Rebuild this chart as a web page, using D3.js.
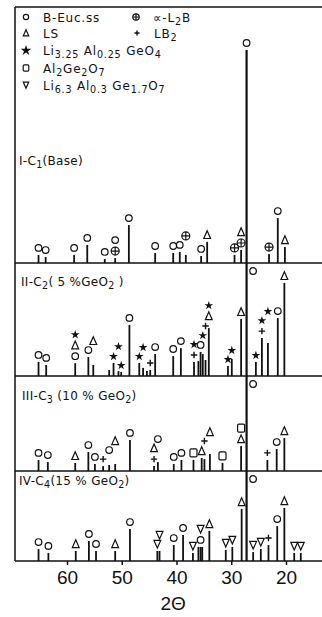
<!DOCTYPE html>
<html>
<head>
<meta charset="utf-8">
<script src="https://cdn.jsdelivr.net/npm/d3@7"></script>
<style>
  body { margin: 0; background: #fff; }
</style>
</head>
<body>
<div id="chart"></div>
<script>
// ---- data ----
const xTicks = [60, 50, 40, 30, 20];
const panelTitles = ["I-C_1(Base)", "II-C_2( 5 %GeO_2 )", "III-C_3 (10 % GeO_2)", "IV-C_4(15 % GeO_2)"];

// phase codes: E = B-Euc.ss, A = a-L2B, L = LS, P = LB2, S = Li3.25..., Q = Al2Ge2O7, V = Li6.3...
// label strings list the marks from the peak upwards
const base2Theta   = [65.2, 63.9, 58.7, 56.3, 53.1, 51.2, 48.7, 43.9, 40.6, 39.4, 38.3, 35.5, 34.4, 29.4, 28.2, 27.2, 23.1, 21.5, 20.2];
const baseIntensity = [3.8, 2.8, 3.8, 8.5, 1.9, 2.3, 17.8, 4.7, 4.7, 5.2, 3.8, 3.3, 9.9, 3.8, 6.1, 100, 4.2, 21.1, 7.5];
const basePhases    = ["E", "E", "E", "E", "E", "AE", "E", "E", "E", "E", "A", "E", "L", "A", "AL", "E", "A", "E", "L"];

const ge5_2Theta   = [65.2, 63.8, 58.5, 56.1, 55.2, 52.3, 51.5, 50.6, 50.1, 48.6, 46.8, 46.1, 45.4, 44.8, 43.9, 40.6, 39.2, 36.8, 36.0, 35.6, 35.2, 34.7, 34.1, 30.6, 29.9, 28.2, 27.2, 25.5, 24.4, 23.3, 21.5, 20.3];
const ge5Intensity = [6.6, 5.2, 6.0, 8.9, 5.2, 2.8, 6.1, 2.3, 1.9, 24, 6.1, 3.8, 2.3, 2.8, 10.3, 9.4, 13.1, 6.6, 7.0, 11.3, 10.3, 7.5, 22.5, 4.7, 8.0, 26.8, 100, 6.6, 17.8, 15.5, 27.2, 43.7];
const ge5Phases    = ["E", "E", "ELS", "E", "L", "", "S", "S", "S", "E", "S", "S", "", "P", "E", "E", "E", "PS", "", "E", "S", "P", "LS", "S", "S", "L", "E", "S", "PS", "S", "E", "L"];

const ge10_2Theta   = [65.2, 63.5, 58.5, 56.1, 54.9, 53.4, 52.3, 51.2, 48.5, 44.1, 43.4, 40.5, 39.1, 36.9, 35.4, 34.9, 33.9, 31.6, 28.2, 27.2, 23.4, 21.7, 20.3];
const ge10Intensity = [5.2, 4.2, 3.8, 8.9, 3.3, 2.3, 2.8, 3.3, 14.6, 2.3, 4.2, 3.3, 5.2, 5.2, 6.1, 5.6, 8.0, 3.8, 11.7, 100, 5.2, 10.3, 15.5];
const ge10Phases    = ["E", "E", "L", "E", "E", "P", "E", "L", "E", "PL", "E", "E", "E", "Q", "L", "P", "L", "Q", "LQ", "E", "P", "E", "L"];

const ge15_2Theta   = [65.2, 63.4, 58.4, 56.0, 54.7, 51.2, 48.5, 43.5, 43.1, 40.5, 38.8, 37.0, 36.0, 35.6, 35.3, 34.0, 31.0, 29.8, 28.1, 27.2, 26.0, 24.6, 23.2, 21.6, 20.3, 18.5, 17.3];
const ge15Intensity = [5.6, 3.8, 4.7, 9.4, 4.7, 4.7, 15.0, 4.7, 4.7, 7.5, 12.2, 3.8, 6.6, 6.6, 6.6, 14.1, 5.2, 6.6, 24.4, 100, 4.2, 5.6, 7.5, 16.4, 24.9, 3.8, 3.8];
const ge15Phases    = ["E", "E", "L", "E", "E", "L", "E", "V", "V", "E", "E", "V", "", "EV", "", "L", "V", "V", "L", "E", "V", "V", "P", "E", "L", "V", "V"];

const legendCodes = ["E", "A", "L", "P", "S", "Q", "V"];
const legendNames = ["B-Euc.ss", "\u221D-L_2B", "LS", "LB_2", "Li_{3.25} Al_{0.25} GeO_4", "Al_2Ge_2O_7", "Li_{6.3} Al_{0.3} Ge_{1.7}O_7"];

const panels = [
  { title: panelTitles[0], t: base2Theta, I: baseIntensity, ph: basePhases },
  { title: panelTitles[1], t: ge5_2Theta, I: ge5Intensity, ph: ge5Phases },
  { title: panelTitles[2], t: ge10_2Theta, I: ge10Intensity, ph: ge10Phases },
  { title: panelTitles[3], t: ge15_2Theta, I: ge15Intensity, ph: ge15Phases },
];

// ---- layout ----
const config = {
  width: 322,
  height: 617,
  left: 15,
  right: 322,
  frameTop: 7,
  tops: [7, 263, 376, 471],
  baselines: [263, 376, 471, 561],
  titleX: [19, 21, 22, 19],
  titleY: [165, 286, 400, 485],
  legendSlots: [[26, 17], [136, 17], [26, 33], [137, 33], [26, 50], [26, 68], [26, 85]],
  ink: "#111",
  font: "'DejaVu Sans', sans-serif",
  axisFont: "'Liberation Sans', Arial, sans-serif",
};

const x = d3.scaleLinear().domain([60, 20]).range([67, 286]);
const h = d3.scaleLinear().domain([0, 100]).range([0, 213]);

const svg = d3.select("#chart").append("svg")
  .attr("width", config.width)
  .attr("height", config.height)
  .style("display", "block");

// text with _x / _{xx} subscripts
function richText(sel, str, size) {
  const parts = str.split(/(_\{[^}]*\}|_.)/).filter(s => s.length);
  let shift = 0;
  parts.forEach(p => {
    const span = sel.append("tspan");
    if (p[0] === "_") {
      span.attr("dy", 3 - shift).style("font-size", (size * 0.8) + "px")
        .text(p[1] === "{" ? p.slice(2, -1) : p.slice(1));
      shift = 3;
    } else {
      if (shift) span.attr("dy", -shift);
      span.text(p);
      shift = 0;
    }
  });
}

function drawMark(g, code, cx, cy, k) {
  k = k || 1;
  const st = (s) => s.attr("fill", "none").attr("stroke", config.ink).attr("stroke-width", 1.2);
  if (code === "E") {
    st(g.append("circle").attr("cx", cx).attr("cy", cy).attr("r", 3.3 * k));
  } else if (code === "A") {
    st(g.append("circle").attr("cx", cx).attr("cy", cy).attr("r", 4 * k));
    st(g.append("path").attr("d", `M${cx - 4 * k},${cy}H${cx + 4 * k}M${cx},${cy - 4 * k}V${cy + 4 * k}`));
  } else if (code === "L") {
    st(g.append("path").attr("d", `M${cx},${cy - 4.2 * k}L${cx + 3.4 * k},${cy + 3.6 * k}L${cx - 3.4 * k},${cy + 3.6 * k}Z`));
  } else if (code === "V") {
    st(g.append("path").attr("d", `M${cx},${cy + 4 * k}L${cx + 3.4 * k},${cy - 3.6 * k}L${cx - 3.4 * k},${cy - 3.6 * k}Z`));
  } else if (code === "P") {
    st(g.append("path").attr("d", `M${cx - 3.2 * k},${cy}H${cx + 3.2 * k}M${cx},${cy - 3.2 * k}V${cy + 3.2 * k}`)).attr("stroke-width", 1.4);
  } else if (code === "Q") {
    st(g.append("rect").attr("x", cx - 3.5 * k).attr("y", cy - 4 * k).attr("width", 7 * k).attr("height", 8 * k).attr("rx", 1.2));
  } else if (code === "S") {
    g.append("path")
      .attr("d", d3.symbol().type(d3.symbolStar).size(24 * k * k)())
      .attr("transform", `translate(${cx},${cy + 0.5})`)
      .attr("fill", config.ink);
  }
}

// frame
svg.append("line")
  .attr("x1", config.left).attr("x2", config.right)
  .attr("y1", config.frameTop).attr("y2", config.frameTop)
  .attr("stroke", config.ink).attr("stroke-width", 1.5);
svg.append("line")
  .attr("x1", config.left).attr("x2", config.left)
  .attr("y1", config.frameTop).attr("y2", config.baselines[3])
  .attr("stroke", config.ink).attr("stroke-width", 1.5);

// legend
const legend = svg.append("g").attr("class", "legend");
legendCodes.forEach((c, i) => {
  const [lx, ly] = config.legendSlots[i];
  drawMark(legend, c, lx, ly, c === "S" ? 1.2 : 0.8);
  const t = legend.append("text")
    .attr("x", lx + 17).attr("y", ly + 4.5)
    .style("font-family", config.font)
    .style("font-size", "12px")
    .style("letter-spacing", "0.8px")
    .attr("fill", config.ink);
  richText(t, legendNames[i], 12);
});

// panels
panels.forEach((p, i) => {
  const g = svg.append("g").attr("class", `panel-${i}`);
  const base = config.baselines[i];
  const top = config.tops[i];

  g.append("line")
    .attr("x1", config.left).attr("x2", config.right)
    .attr("y1", base).attr("y2", base)
    .attr("stroke", config.ink).attr("stroke-width", 1.5);

  const title = g.append("text")
    .attr("x", config.titleX[i]).attr("y", config.titleY[i])
    .style("font-family", config.font)
    .style("font-size", "12px")
    .style("letter-spacing", "0.3px")
    .attr("fill", config.ink);
  richText(title, p.title, 12);

  const placed = [];
  p.t.forEach((t, j) => {
    const px = x(t);
    const peakTop = base - h(p.I[j]);
    const clipped = peakTop < top;
    g.append("line")
      .attr("x1", px).attr("x2", px)
      .attr("y1", base).attr("y2", clipped ? top : peakTop)
      .attr("stroke", config.ink)
      .attr("stroke-width", clipped || p.I[j] === 100 ? 2.2 : 1.8);

    if (clipped) {
      p.ph[j].split("").forEach((c, k) => drawMark(g, c, px + 6.5, top + 8 + k * 11));
      return;
    }
    let cy = peakTop - 7;
    p.ph[j].split("").forEach(c => {
      while (placed.some(q => Math.abs(q.x - px) < 6.5 && Math.abs(q.y - cy) < 9)) cy -= 1;
      placed.push({ x: px, y: cy });
      drawMark(g, c, px, cy);
      cy -= 11;
    });
  });
});

// x axis
const axis = svg.append("g")
  .attr("transform", `translate(0,${config.baselines[3]})`)
  .call(d3.axisBottom(x).tickValues(xTicks).tickSize(4).tickPadding(6));
axis.select(".domain").remove();
axis.selectAll(".tick line").attr("stroke", config.ink).attr("stroke-width", 1.5);
axis.selectAll(".tick text")
  .style("font-family", config.axisFont)
  .style("font-size", "19px")
  .attr("fill", config.ink);

svg.append("text")
  .attr("x", x(40.6)).attr("y", 610)
  .attr("text-anchor", "middle")
  .style("font-family", config.axisFont)
  .style("font-size", "19px")
  .attr("fill", config.ink)
  .text("2\u0398");
</script>
</body>
</html>
